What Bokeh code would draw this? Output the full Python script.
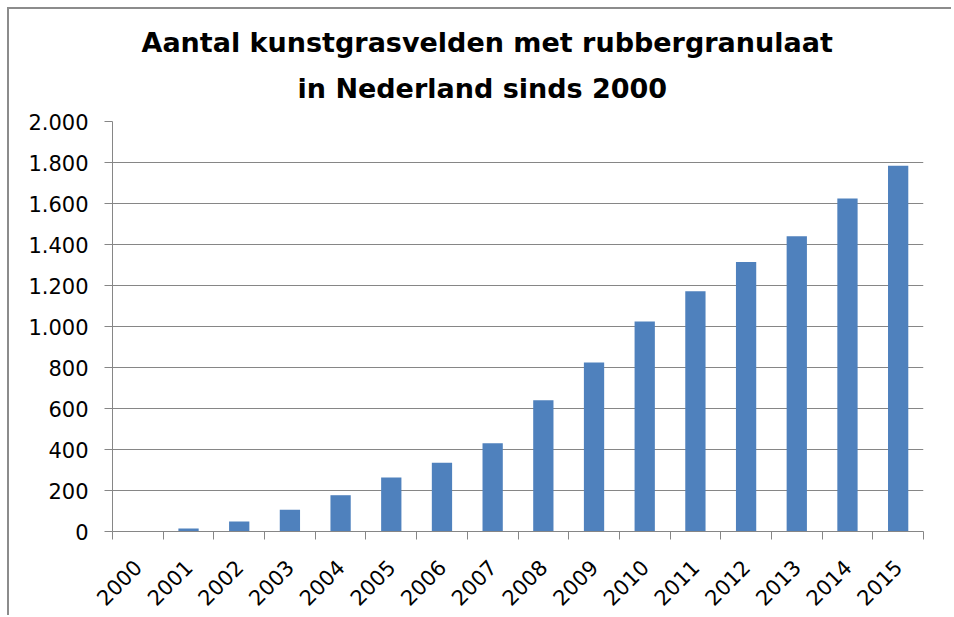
import math
from bokeh.plotting import figure
from bokeh.models import FixedTicker, ColumnDataSource, Title
from bokeh.embed import file_html
from bokeh.resources import INLINE

years = ["2000", "2001", "2002", "2003", "2004", "2005", "2006", "2007",
         "2008", "2009", "2010", "2011", "2012", "2013", "2014", "2015"]
counts = [0, 15, 49, 106, 177, 264, 335, 430, 640, 825, 1025, 1172, 1315, 1440, 1624, 1784]
y_ticks = [0, 200, 400, 600, 800, 1000, 1200, 1400, 1600, 1800, 2000]
y_tick_labels = ["0", "200", "400", "600", "800", "1.000", "1.200", "1.400", "1.600", "1.800", "2.000"]
title_lines = ["Aantal kunstgrasvelden met rubbergranulaat", "in Nederland sinds 2000"]

xs = list(range(len(years)))
src = ColumnDataSource(dict(x=xs, year=years, count=counts))

GRAY = "#868686"
FONT = "DejaVu Sans"

p = figure(title=None, frame_width=811, frame_height=410,
           x_range=(-0.5, len(years) - 0.5), y_range=(0, 2000),
           output_backend="svg", toolbar_location=None,
           min_border_left=103, min_border_right=28,
           min_border_top=112, min_border_bottom=84)

p.vbar(x="x", top="count", width=0.4, source=src, fill_color="#4F81BD", line_color=None)

# x axis: labels at centres, ticks at category boundaries
p.xaxis.ticker = FixedTicker(ticks=xs, minor_ticks=[i - 0.5 for i in range(len(years) + 1)])
p.xaxis.major_label_overrides = {i: y for i, y in enumerate(years)}
p.xaxis.major_tick_out = 0
p.xaxis.major_tick_in = 0
p.xaxis.minor_tick_out = 8
p.xaxis.minor_tick_in = 0
p.xaxis.minor_tick_line_color = GRAY
p.xaxis.major_label_orientation = math.pi / 4
p.xaxis.major_label_standoff = 24

p.yaxis.ticker = FixedTicker(ticks=y_ticks)
p.yaxis.major_label_overrides = dict(zip(y_ticks, y_tick_labels))
p.yaxis.major_tick_out = 8
p.yaxis.major_tick_in = 0
p.yaxis.minor_tick_line_color = None
p.yaxis.major_label_standoff = 16

for ax in (p.xaxis, p.yaxis):
    ax.axis_line_color = GRAY
    ax.major_label_text_font = FONT
    ax.major_label_text_font_size = "21px"
    ax.major_label_text_color = "black"
p.yaxis.major_tick_line_color = GRAY
p.xaxis.major_tick_line_color = None

p.xgrid.visible = False
p.ygrid.grid_line_color = GRAY
p.ygrid.grid_line_width = 1
p.outline_line_color = None

# line 2 (closest to the frame) first, then line 1
title_offsets = [185, 29]
title_standoffs = [31, 0]
title_valign = ["top", "bottom"]
for line, off, so, va in zip(reversed(title_lines), title_offsets, title_standoffs, title_valign):
    t = Title(text=line, align="left", vertical_align=va, text_font=FONT, text_font_size="27px",
              text_font_style="bold", text_color="black", offset=off, standoff=so)
    p.add_layout(t, "above")

p.styles = {"position": "relative", "top": "7px", "left": "7px", "margin-bottom": "-14px",
            "border-top": "2px solid #8c8c8c", "border-left": "2px solid #8c8c8c"}

open("out.html", "w").write(file_html(p, INLINE))
